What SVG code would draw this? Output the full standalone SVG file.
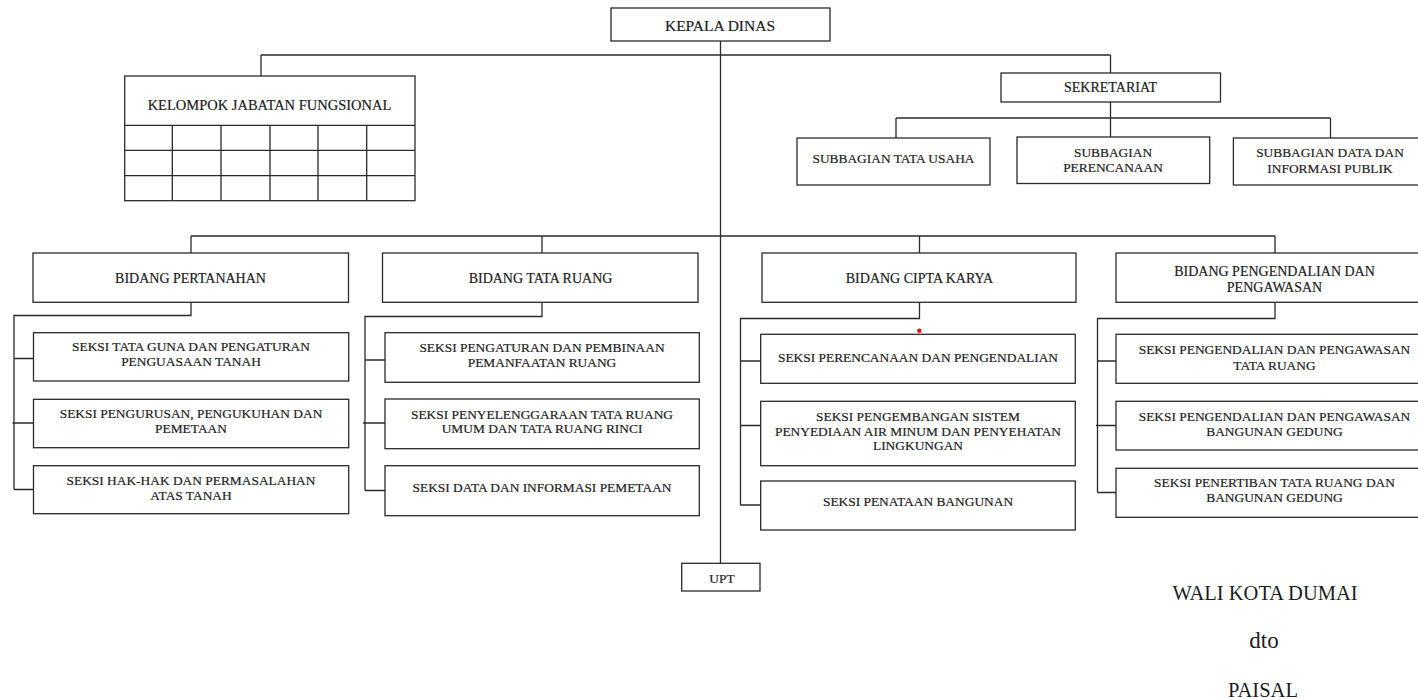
<svg xmlns="http://www.w3.org/2000/svg" width="1418" height="699" viewBox="0 0 1418 699">
<style>
.box{fill:#fff;stroke:#2a2a2a;stroke-width:1.3}
.ln{fill:none;stroke:#2a2a2a;stroke-width:1.3}
text{font-family:"Liberation Serif","Times New Roman",serif;fill:#1c1c1c;stroke:#1c1c1c;stroke-width:0.2;text-anchor:middle}
.s{font-size:13.4px}
.b{font-size:14px}
.k{font-size:15.5px}
.w{font-size:20.5px;stroke-width:0}
</style>
<rect x="0" y="0" width="1418" height="699" fill="#fff"/>
<g id="connectors" class="ln">
<path d="M720.5 41V563"/>
<path d="M261 55H1110.5M261 55V76M1110.5 55V73"/>
<path d="M1110.5 102V137M896 118H1330.5M896 118V138M1330.5 118V138"/>
<path d="M191 236H1275M191 236V253M542 236V253M919.5 236V253M1275 236V253"/>
<path d="M191 302V315.5H14V489.5M14 358.5H33.5M12.5 423H33.5M14 489.5H33.5"/>
<path d="M542 302V316.5H365V490.5M365 360H385M363 423H385M365 490.5H385"/>
<path d="M919.5 302V318.5H740.5V505.5M740.5 361H761M740.5 425.5H761M740.5 505H761"/>
<path d="M1275 302V318.5H1097.5V492.5M1097.5 361H1116M1096 425.5H1116M1097.5 492.5H1116"/>
</g>
<g id="kepala-dinas">
<rect class="box" x="611" y="8" width="219" height="33"/>
<text class="k" x="720" y="31">KEPALA DINAS</text>
</g>
<g id="kelompok-jabatan-fungsional">
<rect class="box" x="124.7" y="76" width="290.3" height="124.7"/>
<path class="ln" d="M124.7 125.3H415M124.7 150.3H415M124.7 175.7H415M172.3 125.3V200.7M221 125.3V200.7M270 125.3V200.7M318 125.3V200.7M366.7 125.3V200.7"/>
<text class="b" x="269.5" y="110" style="font-size:14.5px">KELOMPOK JABATAN FUNGSIONAL</text>
</g>
<g id="sekretariat">
<rect class="box" x="1001" y="73" width="219.5" height="29"/>
<text class="b" x="1110.5" y="92">SEKRETARIAT</text>
</g>
<g id="subbagian-tata-usaha">
<rect class="box" x="797" y="138" width="193" height="47"/>
<text class="s" x="893.5" y="163">SUBBAGIAN TATA USAHA</text>
</g>
<g id="subbagian-perencanaan">
<rect class="box" x="1017" y="137" width="192.7" height="46.5"/>
<text class="s" x="1113" y="157">SUBBAGIAN</text>
<text class="s" x="1113" y="172">PERENCANAAN</text>
</g>
<g id="subbagian-data">
<rect class="box" x="1233.4" y="138" width="200" height="47"/>
<text class="s" x="1330" y="157">SUBBAGIAN DATA DAN</text>
<text class="s" x="1330" y="172.5">INFORMASI PUBLIK</text>
</g>
<g id="bidang-pertanahan">
<rect class="box" x="33" y="253" width="315.5" height="49.3"/>
<text class="b" x="190.5" y="282.5">BIDANG PERTANAHAN</text>
</g>
<g id="bidang-tata-ruang">
<rect class="box" x="382.5" y="253" width="315.5" height="49.3"/>
<text class="b" x="540.5" y="282.5">BIDANG TATA RUANG</text>
</g>
<g id="bidang-cipta-karya">
<rect class="box" x="762" y="253" width="314" height="49.3"/>
<text class="b" x="919.5" y="282.5">BIDANG CIPTA KARYA</text>
</g>
<g id="bidang-pengendalian">
<rect class="box" x="1116" y="253" width="320" height="49.3"/>
<text class="b" x="1274.5" y="276">BIDANG PENGENDALIAN DAN</text>
<text class="b" x="1274.5" y="292">PENGAWASAN</text>
</g>
<g id="seksi-tata-guna">
<rect class="box" x="33.5" y="332.7" width="315.2" height="48.3"/>
<text class="s" x="191" y="351">SEKSI TATA GUNA DAN PENGATURAN</text>
<text class="s" x="191" y="366">PENGUASAAN TANAH</text>
</g>
<g id="seksi-pengurusan">
<rect class="box" x="33.5" y="399.3" width="315.2" height="48.4"/>
<text class="s" x="191" y="418">SEKSI PENGURUSAN, PENGUKUHAN DAN</text>
<text class="s" x="191" y="433">PEMETAAN</text>
</g>
<g id="seksi-hak-hak">
<rect class="box" x="33.5" y="465.7" width="315.2" height="48"/>
<text class="s" x="191" y="484.5">SEKSI HAK-HAK DAN PERMASALAHAN</text>
<text class="s" x="191" y="499.5">ATAS TANAH</text>
</g>
<g id="seksi-pengaturan">
<rect class="box" x="385" y="332.7" width="314.3" height="49.6"/>
<text class="s" x="542" y="352">SEKSI PENGATURAN DAN PEMBINAAN</text>
<text class="s" x="542" y="366.5">PEMANFAATAN RUANG</text>
</g>
<g id="seksi-penyelenggaraan">
<rect class="box" x="385" y="399" width="314.3" height="49.7"/>
<text class="s" x="542" y="419">SEKSI PENYELENGGARAAN TATA RUANG</text>
<text class="s" x="542" y="433">UMUM DAN TATA RUANG RINCI</text>
</g>
<g id="seksi-data-informasi">
<rect class="box" x="385" y="465.7" width="314.3" height="50"/>
<text class="s" x="542" y="491.5">SEKSI DATA DAN INFORMASI PEMETAAN</text>
</g>
<g id="seksi-perencanaan">
<rect class="box" x="760.7" y="334.3" width="314.6" height="49"/>
<text class="s" x="918" y="362">SEKSI PERENCANAAN DAN PENGENDALIAN</text>
</g>
<g id="seksi-pengembangan">
<rect class="box" x="760.7" y="401.3" width="314.6" height="64.4"/>
<text class="s" x="918" y="420.5">SEKSI PENGEMBANGAN SISTEM</text>
<text class="s" x="918" y="435.5">PENYEDIAAN AIR MINUM DAN PENYEHATAN</text>
<text class="s" x="918" y="450">LINGKUNGAN</text>
</g>
<g id="seksi-penataan">
<rect class="box" x="760.7" y="481" width="314.6" height="49"/>
<text class="s" x="918" y="506">SEKSI PENATAAN BANGUNAN</text>
</g>
<g id="seksi-pengawasan-tata-ruang">
<rect class="box" x="1116" y="334.3" width="320" height="49"/>
<text class="s" x="1274.5" y="353.5">SEKSI PENGENDALIAN DAN PENGAWASAN</text>
<text class="s" x="1274.5" y="369.5">TATA RUANG</text>
</g>
<g id="seksi-pengawasan-bangunan">
<rect class="box" x="1116" y="401.3" width="320" height="48.7"/>
<text class="s" x="1274.5" y="420.5">SEKSI PENGENDALIAN DAN PENGAWASAN</text>
<text class="s" x="1274.5" y="436">BANGUNAN GEDUNG</text>
</g>
<g id="seksi-penertiban">
<rect class="box" x="1116" y="468.3" width="320" height="49"/>
<text class="s" x="1274.5" y="487">SEKSI PENERTIBAN TATA RUANG DAN</text>
<text class="s" x="1274.5" y="502">BANGUNAN GEDUNG</text>
</g>
<g id="upt">
<rect class="box" x="681.7" y="563.3" width="78.3" height="27.7"/>
<text class="s" x="722" y="583">UPT</text>
</g>
<circle cx="919.3" cy="330.7" r="2.2" fill="#e01010"/>
<g id="signature">
<text class="w" x="1265" y="600">WALI KOTA DUMAI</text>
<text class="w" x="1264" y="648" style="font-size:23px">dto</text>
<text class="w" x="1263" y="697">PAISAL</text>
</g>
</svg>
